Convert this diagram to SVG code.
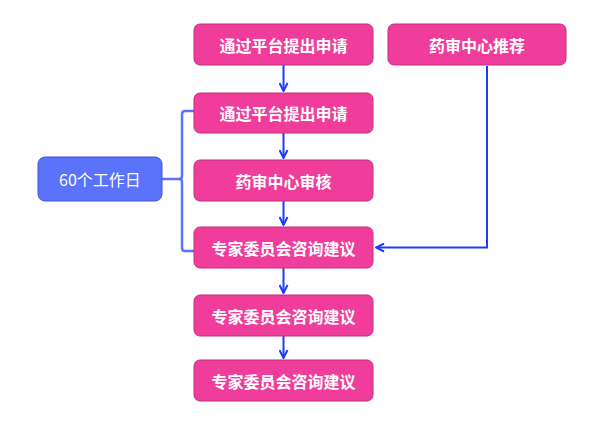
<svg xmlns="http://www.w3.org/2000/svg" width="600" height="433" viewBox="0 0 600 433">
<style>
.box{fill:#f03d9b;stroke:#c12e7c;stroke-width:1}
.blue{fill:#5a73fa;stroke:#3f56d0;stroke-width:1}
.t{font-family:"Noto Sans CJK SC","Liberation Sans",sans-serif;font-size:16px;font-weight:bold;fill:#fff;text-anchor:middle;dominant-baseline:central}
.a{fill:none;stroke:#1a3cff;stroke-width:2}
.br{fill:none;stroke:#5874ff;stroke-width:2.5}
</style>
<defs>
<marker id="ah" viewBox="0 0 10 10" refX="9" refY="5" markerWidth="10" markerHeight="10" markerUnits="userSpaceOnUse" orient="auto">
<path d="M1 1 L9 5 L1 9" fill="none" stroke="#1a3cff" stroke-width="2"/>
</marker>
</defs>
<rect width="600" height="433" fill="#fff"/>
<g id="connectors">
<line class="a" x1="283.5" y1="65" x2="283.5" y2="91" marker-end="url(#ah)"/>
<line class="a" x1="283.5" y1="133" x2="283.5" y2="158" marker-end="url(#ah)"/>
<line class="a" x1="283.5" y1="201" x2="283.5" y2="225" marker-end="url(#ah)"/>
<line class="a" x1="283.5" y1="268" x2="283.5" y2="293" marker-end="url(#ah)"/>
<line class="a" x1="283.5" y1="336" x2="283.5" y2="358" marker-end="url(#ah)"/>
<polyline class="a" points="487,66 487,247.5 376,247.5" marker-end="url(#ah)"/>
<path class="br" d="M194 111 L185 111 Q182 111 182 114 L182 176 Q182 179 179 179 L162 179 M179 179 Q182 179 182 182 L182 248 Q182 251 185 251 L194 251"/>
</g>
<g id="n1"><rect class="box" x="194" y="24" width="179" height="41" rx="6"/><text class="t" x="283.5" y="44.5">通过平台提出申请</text></g>
<g id="n2"><rect class="box" x="388" y="24" width="178" height="41" rx="6"/><text class="t" x="477" y="44.5">药审中心推荐</text></g>
<g id="n3"><rect class="box" x="194" y="93" width="179" height="40" rx="6"/><text class="t" x="283.5" y="113">通过平台提出申请</text></g>
<g id="n4"><rect class="box" x="194" y="160" width="179" height="41" rx="6"/><text class="t" x="283.5" y="180.5">药审中心审核</text></g>
<g id="n5"><rect class="box" x="194" y="227" width="179" height="41" rx="6"/><text class="t" x="283.5" y="247.5">专家委员会咨询建议</text></g>
<g id="n6"><rect class="box" x="194" y="295" width="179" height="41" rx="6"/><text class="t" x="283.5" y="315.5">专家委员会咨询建议</text></g>
<g id="n7"><rect class="box" x="194" y="360" width="179" height="41" rx="6"/><text class="t" x="283.5" y="380.5">专家委员会咨询建议</text></g>
<g id="n8"><rect class="blue" x="38" y="157" width="124" height="44" rx="7"/><text class="t" x="100" y="179" style="font-weight:normal">60个工作日</text></g>
</svg>
